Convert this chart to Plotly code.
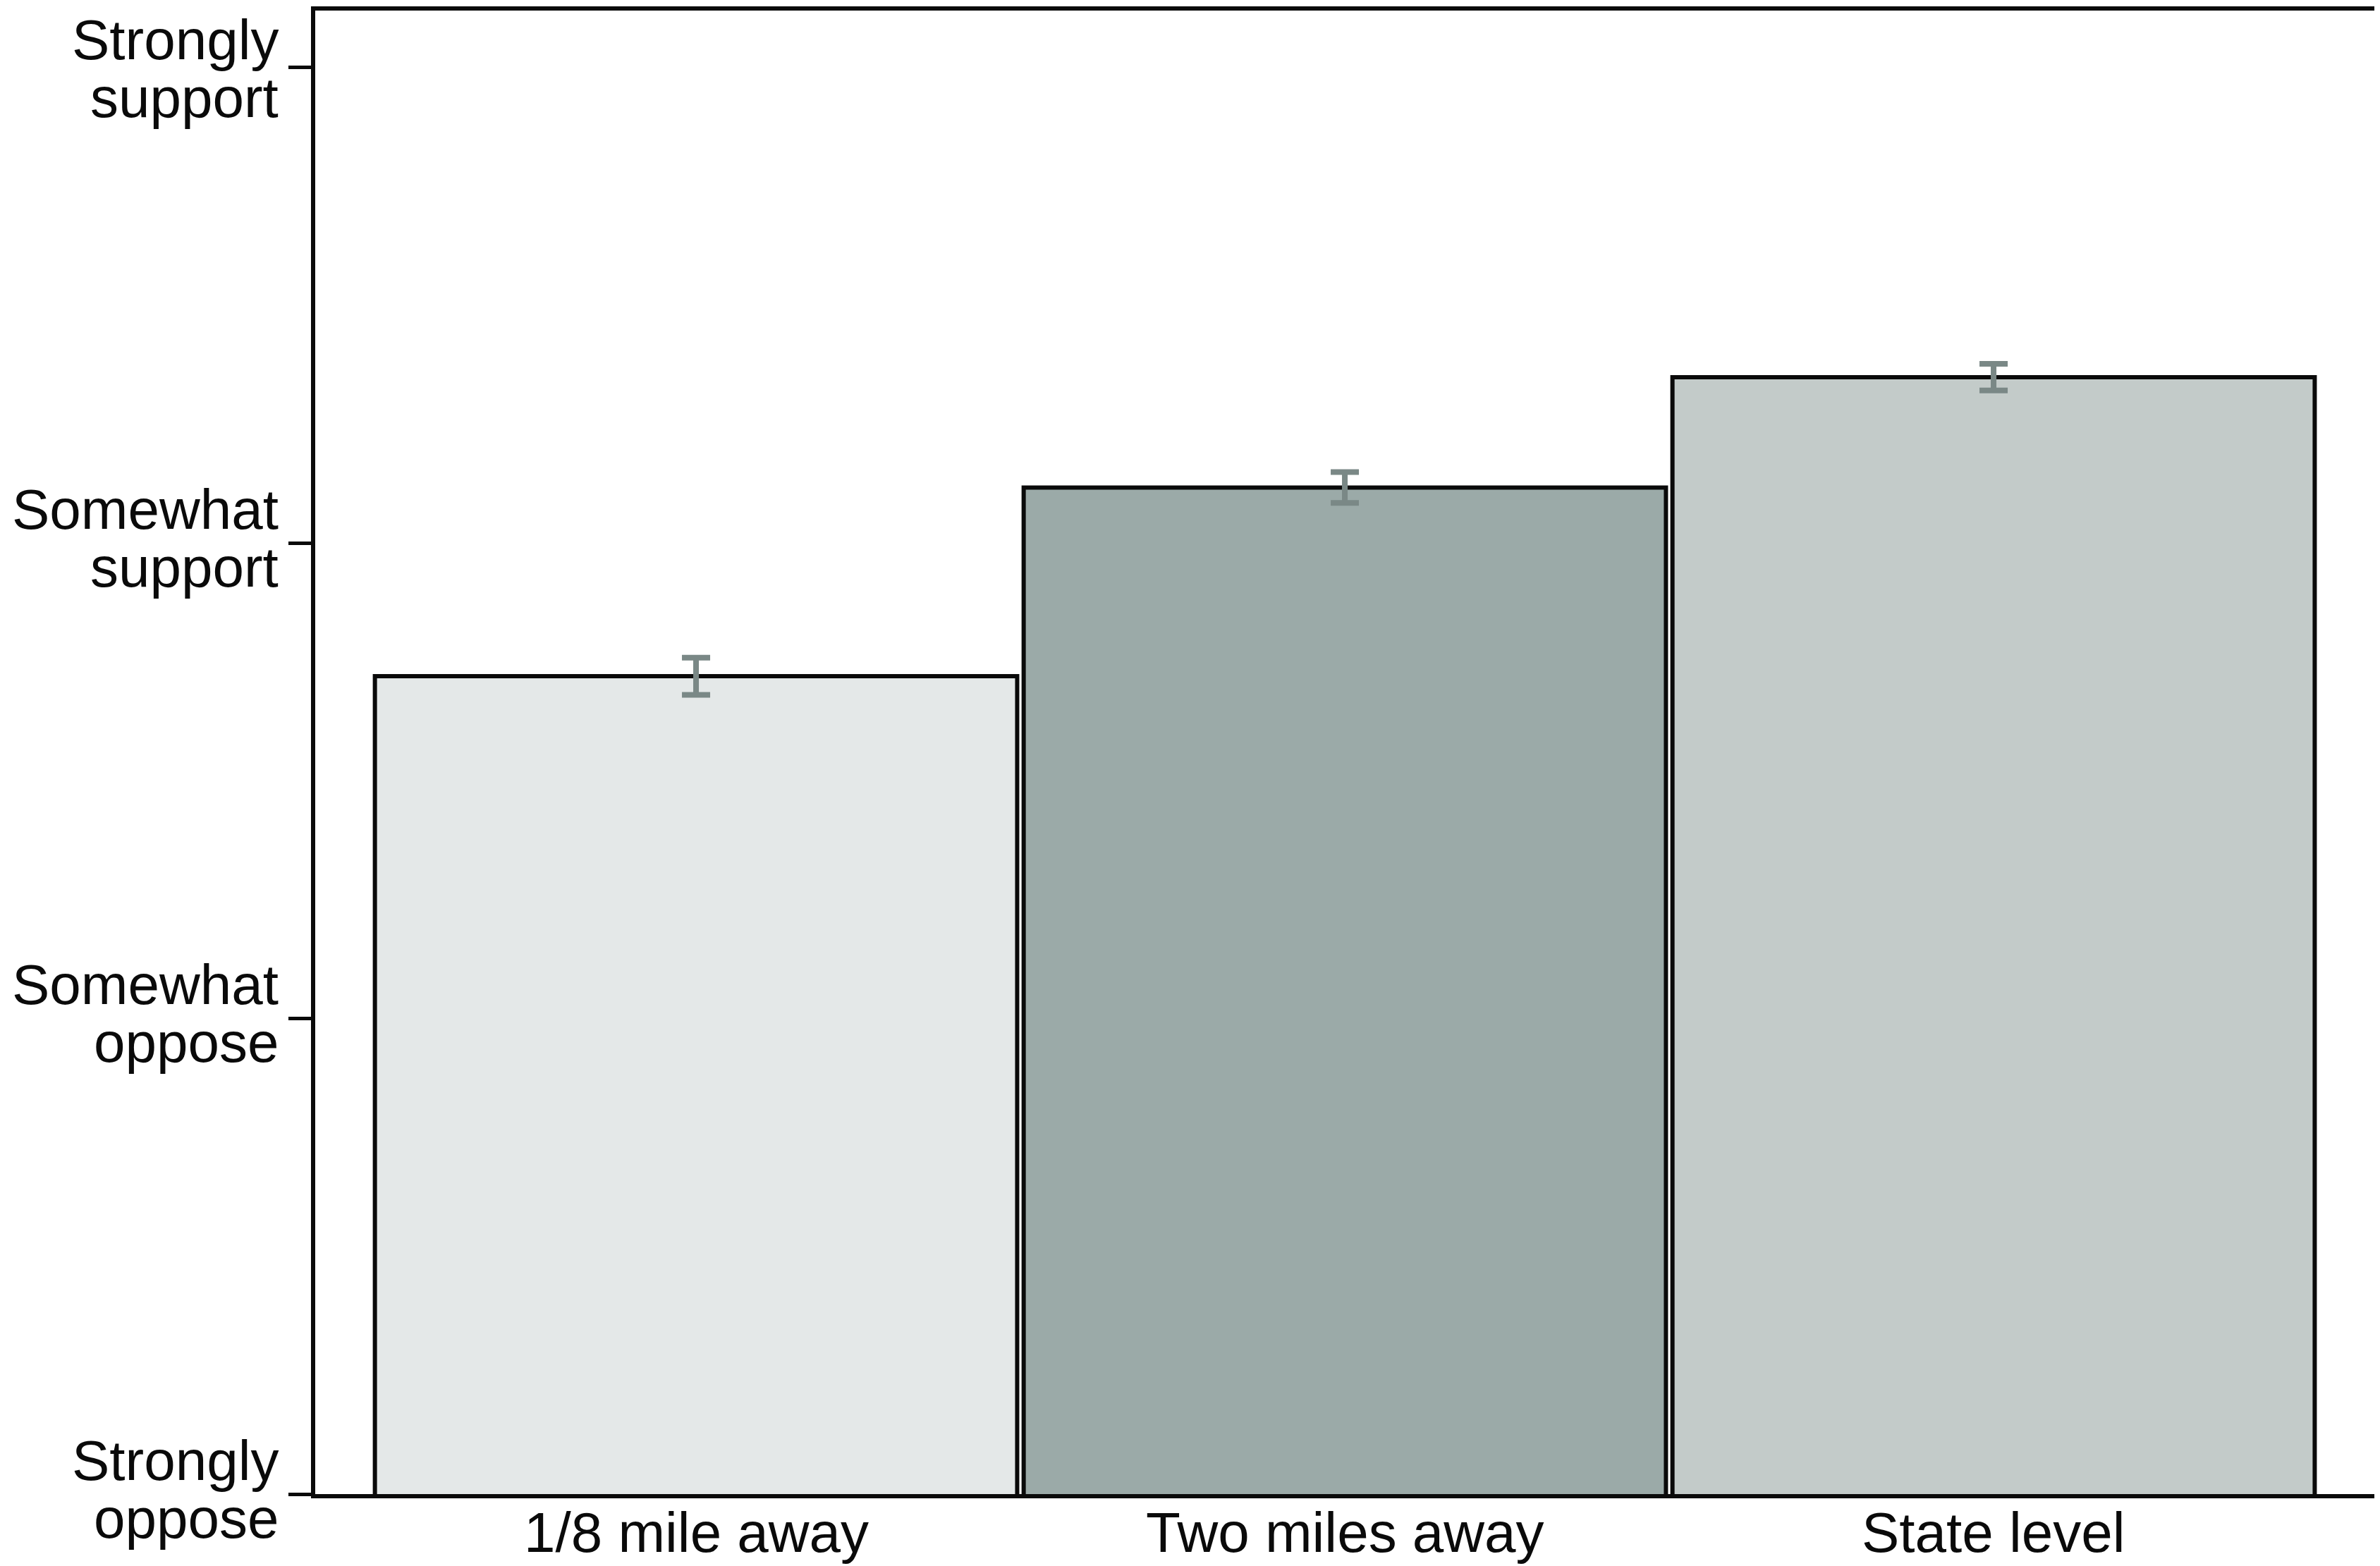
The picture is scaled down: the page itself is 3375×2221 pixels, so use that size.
import plotly.graph_objects as go

categories = ["1/8 mile away", "Two miles away", "State level"]
means = [2.72, 3.117, 3.349]
errors = [0.039, 0.0325, 0.028]
bar_colors = ["#e4e8e8", "#9baaa8", "#c3cbc9"]

y_tickvals = [1, 2, 3, 4]
y_ticklabels = ["Strongly\noppose", "Somewhat\noppose", "Somewhat\nsupport", "Strongly\nsupport"]

FONT = "Liberation Sans, Arial, Helvetica, sans-serif"
FS = 80
INK = "#0a0a0a"

fig = go.Figure()
fig.add_trace(go.Bar(
    x=list(range(len(categories))),
    y=means,
    width=0.99,
    marker=dict(color=bar_colors, line=dict(color=INK, width=6)),
    error_y=dict(type="data", array=errors, visible=True,
                 color="#7a8886", thickness=8, width=20),
    showlegend=False,
))

annotations = []
for tv, lab in zip(y_tickvals, y_ticklabels):
    l1, l2 = lab.split("\n")
    # keep the topmost label fully inside the page
    adj = -9 if tv == max(y_tickvals) else 0
    annotations.append(dict(xref="paper", yref="y", x=0, y=tv, text=l1,
                            xanchor="right", yanchor="middle", xshift=-51, yshift=48 + adj,
                            borderpad=0,
                            showarrow=False, font=dict(family=FONT, size=FS, color=INK)))
    annotations.append(dict(xref="paper", yref="y", x=0, y=tv, text=l2,
                            xanchor="right", yanchor="middle", xshift=-51, yshift=-34 + adj,
                            borderpad=0,
                            showarrow=False, font=dict(family=FONT, size=FS, color=INK)))
for i, c in enumerate(categories):
    annotations.append(dict(xref="x", yref="paper", x=i, y=0, text=c,
                            xanchor="center", yanchor="middle", yshift=-54,
                            showarrow=False, font=dict(family=FONT, size=FS, color=INK)))

fig.update_layout(
    width=3367, height=2213,
    margin=dict(l=439, r=3, t=1, b=102, pad=0),
    paper_bgcolor="white", plot_bgcolor="white",
    annotations=annotations,
    xaxis=dict(range=[-0.587, 2.588], showticklabels=False, ticks="",
               showgrid=False, zeroline=False, showline=True, linecolor=INK,
               linewidth=6, mirror=True),
    yaxis=dict(range=[1, 4.12], tickvals=y_tickvals, showticklabels=False,
               ticks="outside", ticklen=32, tickwidth=5, tickcolor=INK,
               showgrid=False, zeroline=False, showline=True, linecolor=INK,
               linewidth=6, mirror=True),
    font=dict(family=FONT, size=FS, color=INK),
)

fig.write_html("out.html")
